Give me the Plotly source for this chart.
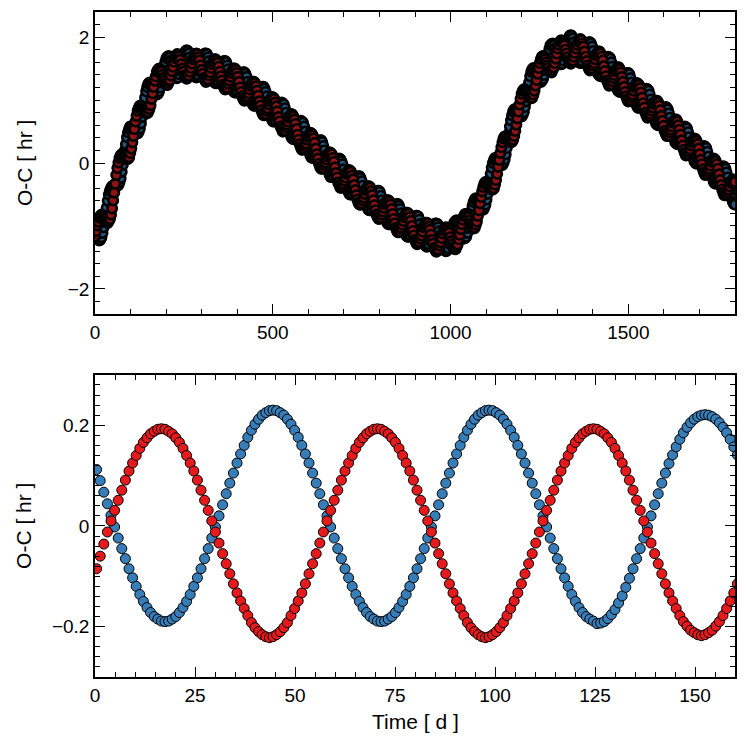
import plotly.graph_objects as go

# ---- top panel: full 1800-day baseline (epochs every 3 d) ----
time_top = [
    0, 3, 6, 9, 12, 15, 18, 21, 24, 27, 30, 33, 36, 39, 42, 45, 48, 51,
    54, 57, 60, 63, 66, 69, 72, 75, 78, 81, 84, 87, 90, 93, 96, 99, 102, 105,
    108, 111, 114, 117, 120, 123, 126, 129, 132, 135, 138, 141, 144, 147, 150, 153, 156, 159,
    162, 165, 168, 171, 174, 177, 180, 183, 186, 189, 192, 195, 198, 201, 204, 207, 210, 213,
    216, 219, 222, 225, 228, 231, 234, 237, 240, 243, 246, 249, 252, 255, 258, 261, 264, 267,
    270, 273, 276, 279, 282, 285, 288, 291, 294, 297, 300, 303, 306, 309, 312, 315, 318, 321,
    324, 327, 330, 333, 336, 339, 342, 345, 348, 351, 354, 357, 360, 363, 366, 369, 372, 375,
    378, 381, 384, 387, 390, 393, 396, 399, 402, 405, 408, 411, 414, 417, 420, 423, 426, 429,
    432, 435, 438, 441, 444, 447, 450, 453, 456, 459, 462, 465, 468, 471, 474, 477, 480, 483,
    486, 489, 492, 495, 498, 501, 504, 507, 510, 513, 516, 519, 522, 525, 528, 531, 534, 537,
    540, 543, 546, 549, 552, 555, 558, 561, 564, 567, 570, 573, 576, 579, 582, 585, 588, 591,
    594, 597, 600, 603, 606, 609, 612, 615, 618, 621, 624, 627, 630, 633, 636, 639, 642, 645,
    648, 651, 654, 657, 660, 663, 666, 669, 672, 675, 678, 681, 684, 687, 690, 693, 696, 699,
    702, 705, 708, 711, 714, 717, 720, 723, 726, 729, 732, 735, 738, 741, 744, 747, 750, 753,
    756, 759, 762, 765, 768, 771, 774, 777, 780, 783, 786, 789, 792, 795, 798, 801, 804, 807,
    810, 813, 816, 819, 822, 825, 828, 831, 834, 837, 840, 843, 846, 849, 852, 855, 858, 861,
    864, 867, 870, 873, 876, 879, 882, 885, 888, 891, 894, 897, 900, 903, 906, 909, 912, 915,
    918, 921, 924, 927, 930, 933, 936, 939, 942, 945, 948, 951, 954, 957, 960, 963, 966, 969,
    972, 975, 978, 981, 984, 987, 990, 993, 996, 999, 1002, 1005, 1008, 1011, 1014, 1017, 1020, 1023,
    1026, 1029, 1032, 1035, 1038, 1041, 1044, 1047, 1050, 1053, 1056, 1059, 1062, 1065, 1068, 1071, 1074, 1077,
    1080, 1083, 1086, 1089, 1092, 1095, 1098, 1101, 1104, 1107, 1110, 1113, 1116, 1119, 1122, 1125, 1128, 1131,
    1134, 1137, 1140, 1143, 1146, 1149, 1152, 1155, 1158, 1161, 1164, 1167, 1170, 1173, 1176, 1179, 1182, 1185,
    1188, 1191, 1194, 1197, 1200, 1203, 1206, 1209, 1212, 1215, 1218, 1221, 1224, 1227, 1230, 1233, 1236, 1239,
    1242, 1245, 1248, 1251, 1254, 1257, 1260, 1263, 1266, 1269, 1272, 1275, 1278, 1281, 1284, 1287, 1290, 1293,
    1296, 1299, 1302, 1305, 1308, 1311, 1314, 1317, 1320, 1323, 1326, 1329, 1332, 1335, 1338, 1341, 1344, 1347,
    1350, 1353, 1356, 1359, 1362, 1365, 1368, 1371, 1374, 1377, 1380, 1383, 1386, 1389, 1392, 1395, 1398, 1401,
    1404, 1407, 1410, 1413, 1416, 1419, 1422, 1425, 1428, 1431, 1434, 1437, 1440, 1443, 1446, 1449, 1452, 1455,
    1458, 1461, 1464, 1467, 1470, 1473, 1476, 1479, 1482, 1485, 1488, 1491, 1494, 1497, 1500, 1503, 1506, 1509,
    1512, 1515, 1518, 1521, 1524, 1527, 1530, 1533, 1536, 1539, 1542, 1545, 1548, 1551, 1554, 1557, 1560, 1563,
    1566, 1569, 1572, 1575, 1578, 1581, 1584, 1587, 1590, 1593, 1596, 1599, 1602, 1605, 1608, 1611, 1614, 1617,
    1620, 1623, 1626, 1629, 1632, 1635, 1638, 1641, 1644, 1647, 1650, 1653, 1656, 1659, 1662, 1665, 1668, 1671,
    1674, 1677, 1680, 1683, 1686, 1689, 1692, 1695, 1698, 1701, 1704, 1707, 1710, 1713, 1716, 1719, 1722, 1725,
    1728, 1731, 1734, 1737, 1740, 1743, 1746, 1749, 1752, 1755, 1758, 1761, 1764, 1767, 1770, 1773, 1776, 1779,
    1782, 1785, 1788, 1791, 1794, 1797, 1800,
]

primary_top = [
    -1.06, -1.12, -1.16, -1.21, -1.23, -1.22, -1.18, -1.11, -1.02, -0.93, -0.82, -0.71, -0.60, -0.50, -0.44, -0.40, -0.37, -0.36,
    -0.36, -0.37, -0.36, -0.36, -0.35, -0.30, -0.24, -0.14, -0.03, 0.07, 0.20, 0.30, 0.41, 0.49, 0.54, 0.58, 0.58, 0.56,
    0.54, 0.50, 0.49, 0.47, 0.47, 0.50, 0.55, 0.63, 0.73, 0.83, 0.95, 1.04, 1.14, 1.21, 1.26, 1.28, 1.27, 1.25,
    1.22, 1.17, 1.14, 1.10, 1.09, 1.10, 1.14, 1.20, 1.28, 1.36, 1.46, 1.54, 1.61, 1.67, 1.69, 1.70, 1.67, 1.62,
    1.57, 1.49, 1.44, 1.39, 1.35, 1.35, 1.36, 1.41, 1.47, 1.53, 1.61, 1.68, 1.74, 1.78, 1.79, 1.78, 1.74, 1.68,
    1.62, 1.54, 1.48, 1.41, 1.37, 1.36, 1.37, 1.40, 1.46, 1.51, 1.59, 1.65, 1.70, 1.74, 1.74, 1.73, 1.68, 1.62,
    1.55, 1.47, 1.40, 1.33, 1.29, 1.27, 1.27, 1.31, 1.36, 1.41, 1.49, 1.54, 1.59, 1.62, 1.62, 1.60, 1.55, 1.49,
    1.42, 1.33, 1.26, 1.19, 1.14, 1.12, 1.12, 1.15, 1.20, 1.25, 1.31, 1.36, 1.41, 1.44, 1.44, 1.42, 1.37, 1.29,
    1.22, 1.13, 1.06, 0.99, 0.93, 0.91, 0.91, 0.94, 0.98, 1.03, 1.09, 1.14, 1.19, 1.21, 1.21, 1.18, 1.13, 1.06,
    0.98, 0.89, 0.81, 0.74, 0.69, 0.66, 0.66, 0.68, 0.73, 0.78, 0.84, 0.89, 0.93, 0.96, 0.95, 0.93, 0.87, 0.80,
    0.72, 0.62, 0.55, 0.47, 0.42, 0.39, 0.38, 0.41, 0.45, 0.50, 0.56, 0.60, 0.65, 0.67, 0.66, 0.64, 0.58, 0.50,
    0.42, 0.33, 0.25, 0.17, 0.12, 0.09, 0.08, 0.11, 0.15, 0.19, 0.25, 0.30, 0.34, 0.36, 0.36, 0.33, 0.27, 0.20,
    0.12, 0.02, -0.06, -0.13, -0.19, -0.22, -0.22, -0.20, -0.15, -0.11, -0.05, 0.00, 0.04, 0.07, 0.06, 0.03, -0.02, -0.10,
    -0.17, -0.27, -0.34, -0.42, -0.47, -0.50, -0.50, -0.48, -0.43, -0.39, -0.32, -0.28, -0.23, -0.21, -0.21, -0.24, -0.29, -0.36,
    -0.44, -0.53, -0.60, -0.68, -0.73, -0.75, -0.75, -0.73, -0.68, -0.63, -0.56, -0.52, -0.47, -0.44, -0.44, -0.46, -0.52, -0.59,
    -0.66, -0.75, -0.82, -0.90, -0.95, -0.97, -0.97, -0.94, -0.90, -0.85, -0.78, -0.73, -0.68, -0.65, -0.65, -0.68, -0.73, -0.80,
    -0.87, -0.96, -1.03, -1.10, -1.15, -1.17, -1.17, -1.14, -1.09, -1.04, -0.97, -0.92, -0.87, -0.84, -0.84, -0.85, -0.90, -0.97,
    -1.04, -1.13, -1.19, -1.26, -1.31, -1.33, -1.32, -1.29, -1.23, -1.18, -1.11, -1.05, -1.00, -0.96, -0.96, -0.97, -1.02, -1.08,
    -1.15, -1.23, -1.29, -1.35, -1.39, -1.40, -1.39, -1.35, -1.28, -1.22, -1.13, -1.06, -0.99, -0.94, -0.92, -0.91, -0.94, -0.98,
    -1.03, -1.09, -1.14, -1.18, -1.20, -1.19, -1.17, -1.11, -1.03, -0.95, -0.85, -0.76, -0.68, -0.62, -0.58, -0.56, -0.58, -0.61,
    -0.64, -0.68, -0.71, -0.73, -0.74, -0.71, -0.66, -0.58, -0.49, -0.39, -0.27, -0.17, -0.07, 0.00, 0.05, 0.08, 0.08, 0.06,
    0.05, 0.01, -0.01, -0.03, -0.03, 0.01, 0.06, 0.14, 0.24, 0.35, 0.47, 0.58, 0.68, 0.76, 0.82, 0.85, 0.86, 0.84,
    0.82, 0.78, 0.76, 0.74, 0.74, 0.77, 0.81, 0.89, 0.98, 1.08, 1.19, 1.28, 1.38, 1.45, 1.49, 1.51, 1.50, 1.46,
    1.43, 1.38, 1.34, 1.31, 1.29, 1.31, 1.34, 1.40, 1.48, 1.56, 1.66, 1.74, 1.81, 1.87, 1.89, 1.90, 1.87, 1.82,
    1.77, 1.70, 1.65, 1.60, 1.57, 1.57, 1.58, 1.63, 1.70, 1.76, 1.85, 1.91, 1.98, 2.02, 2.03, 2.02, 1.98, 1.92,
    1.86, 1.78, 1.71, 1.65, 1.60, 1.59, 1.59, 1.62, 1.68, 1.73, 1.80, 1.85, 1.90, 1.92, 1.92, 1.90, 1.85, 1.78,
    1.70, 1.61, 1.54, 1.47, 1.41, 1.39, 1.38, 1.41, 1.46, 1.50, 1.57, 1.61, 1.66, 1.69, 1.68, 1.66, 1.60, 1.53,
    1.46, 1.36, 1.29, 1.21, 1.16, 1.14, 1.13, 1.16, 1.20, 1.25, 1.32, 1.36, 1.41, 1.43, 1.43, 1.41, 1.35, 1.28,
    1.20, 1.11, 1.04, 0.96, 0.91, 0.88, 0.88, 0.91, 0.95, 1.00, 1.06, 1.11, 1.15, 1.18, 1.17, 1.15, 1.09, 1.01,
    0.94, 0.84, 0.77, 0.69, 0.63, 0.61, 0.60, 0.63, 0.67, 0.71, 0.78, 0.82, 0.86, 0.89, 0.88, 0.85, 0.79, 0.72,
    0.64, 0.54, 0.47, 0.39, 0.33, 0.31, 0.30, 0.32, 0.36, 0.41, 0.47, 0.51, 0.56, 0.58, 0.57, 0.55, 0.49, 0.41,
    0.33, 0.24, 0.16, 0.08, 0.03, 0.00, -0.01, 0.02, 0.06, 0.10, 0.16, 0.21, 0.25, 0.27, 0.26, 0.24, 0.18, 0.10,
    0.02, -0.08, -0.15, -0.23, -0.29, -0.32, -0.33, -0.30, -0.26, -0.22, -0.16, -0.12, -0.07, -0.05, -0.06, -0.09, -0.15, -0.23,
    -0.31, -0.41, -0.48, -0.56, -0.62, -0.65, -0.66,
]

secondary_top = [
    -1.17, -1.08, -0.99, -0.93, -0.87, -0.84, -0.82, -0.83, -0.85, -0.89, -0.93, -0.94, -0.95, -0.92, -0.89, -0.82, -0.72, -0.59,
    -0.47, -0.33, -0.19, -0.08, 0.01, 0.08, 0.12, 0.14, 0.14, 0.11, 0.09, 0.07, 0.06, 0.07, 0.09, 0.16, 0.23, 0.33,
    0.43, 0.54, 0.66, 0.75, 0.83, 0.88, 0.91, 0.91, 0.90, 0.87, 0.84, 0.81, 0.79, 0.79, 0.81, 0.86, 0.92, 1.02,
    1.11, 1.21, 1.31, 1.38, 1.45, 1.48, 1.50, 1.48, 1.45, 1.40, 1.35, 1.31, 1.26, 1.25, 1.24, 1.28, 1.32, 1.39,
    1.46, 1.53, 1.61, 1.67, 1.71, 1.73, 1.72, 1.69, 1.64, 1.57, 1.50, 1.45, 1.39, 1.36, 1.34, 1.36, 1.39, 1.45,
    1.51, 1.58, 1.65, 1.69, 1.73, 1.74, 1.73, 1.68, 1.63, 1.55, 1.48, 1.42, 1.35, 1.32, 1.29, 1.31, 1.33, 1.39,
    1.44, 1.51, 1.57, 1.61, 1.65, 1.65, 1.63, 1.59, 1.53, 1.45, 1.38, 1.31, 1.24, 1.20, 1.17, 1.18, 1.20, 1.26,
    1.31, 1.37, 1.43, 1.47, 1.50, 1.50, 1.48, 1.43, 1.37, 1.29, 1.20, 1.13, 1.06, 1.02, 0.99, 1.00, 1.02, 1.06,
    1.11, 1.17, 1.23, 1.27, 1.29, 1.29, 1.27, 1.22, 1.15, 1.07, 0.98, 0.91, 0.84, 0.79, 0.76, 0.76, 0.78, 0.83,
    0.87, 0.93, 0.98, 1.02, 1.05, 1.04, 1.02, 0.96, 0.90, 0.82, 0.73, 0.66, 0.58, 0.54, 0.50, 0.51, 0.52, 0.57,
    0.61, 0.66, 0.72, 0.75, 0.78, 0.77, 0.74, 0.69, 0.62, 0.54, 0.45, 0.37, 0.30, 0.25, 0.21, 0.22, 0.23, 0.27,
    0.31, 0.37, 0.42, 0.45, 0.48, 0.47, 0.44, 0.39, 0.32, 0.23, 0.14, 0.07, -0.01, -0.06, -0.09, -0.09, -0.08, -0.03,
    0.01, 0.06, 0.11, 0.15, 0.17, 0.16, 0.14, 0.08, 0.02, -0.07, -0.16, -0.23, -0.31, -0.35, -0.39, -0.39, -0.37, -0.33,
    -0.28, -0.23, -0.17, -0.14, -0.11, -0.12, -0.14, -0.20, -0.26, -0.35, -0.43, -0.51, -0.58, -0.63, -0.66, -0.66, -0.64, -0.59,
    -0.55, -0.49, -0.43, -0.40, -0.37, -0.37, -0.39, -0.45, -0.51, -0.59, -0.67, -0.75, -0.82, -0.86, -0.89, -0.88, -0.87, -0.82,
    -0.77, -0.71, -0.65, -0.62, -0.59, -0.59, -0.61, -0.66, -0.73, -0.81, -0.89, -0.96, -1.03, -1.07, -1.10, -1.10, -1.08, -1.03,
    -0.98, -0.92, -0.86, -0.82, -0.79, -0.79, -0.81, -0.86, -0.92, -1.00, -1.08, -1.15, -1.22, -1.26, -1.29, -1.27, -1.25, -1.20,
    -1.15, -1.09, -1.02, -0.98, -0.95, -0.95, -0.96, -1.01, -1.06, -1.14, -1.22, -1.28, -1.35, -1.38, -1.41, -1.39, -1.37, -1.31,
    -1.26, -1.19, -1.12, -1.07, -1.03, -1.02, -1.03, -1.07, -1.11, -1.18, -1.24, -1.29, -1.34, -1.36, -1.37, -1.33, -1.29, -1.21,
    -1.14, -1.05, -0.97, -0.90, -0.84, -0.81, -0.81, -0.83, -0.86, -0.91, -0.96, -0.99, -1.03, -1.04, -1.03, -0.98, -0.93, -0.84,
    -0.75, -0.64, -0.54, -0.45, -0.38, -0.33, -0.30, -0.30, -0.32, -0.35, -0.38, -0.40, -0.42, -0.42, -0.40, -0.34, -0.27, -0.17,
    -0.06, 0.05, 0.16, 0.25, 0.33, 0.39, 0.42, 0.42, 0.41, 0.39, 0.36, 0.35, 0.33, 0.34, 0.37, 0.43, 0.51, 0.61,
    0.71, 0.82, 0.93, 1.02, 1.10, 1.15, 1.17, 1.17, 1.15, 1.12, 1.08, 1.05, 1.03, 1.03, 1.04, 1.09, 1.15, 1.23,
    1.32, 1.42, 1.51, 1.59, 1.65, 1.69, 1.70, 1.68, 1.65, 1.60, 1.55, 1.51, 1.46, 1.45, 1.44, 1.48, 1.52, 1.59,
    1.66, 1.74, 1.82, 1.88, 1.93, 1.95, 1.94, 1.91, 1.87, 1.80, 1.74, 1.68, 1.63, 1.60, 1.58, 1.60, 1.63, 1.69,
    1.75, 1.82, 1.88, 1.93, 1.96, 1.97, 1.95, 1.90, 1.85, 1.77, 1.69, 1.62, 1.55, 1.50, 1.47, 1.48, 1.50, 1.55,
    1.59, 1.65, 1.71, 1.75, 1.77, 1.77, 1.74, 1.69, 1.63, 1.54, 1.46, 1.38, 1.31, 1.27, 1.23, 1.24, 1.25, 1.30,
    1.35, 1.40, 1.46, 1.49, 1.52, 1.52, 1.49, 1.44, 1.37, 1.29, 1.21, 1.13, 1.06, 1.01, 0.98, 0.99, 1.00, 1.05,
    1.09, 1.15, 1.21, 1.24, 1.27, 1.26, 1.24, 1.19, 1.12, 1.04, 0.95, 0.88, 0.80, 0.76, 0.72, 0.73, 0.74, 0.78,
    0.83, 0.88, 0.94, 0.97, 0.99, 0.99, 0.96, 0.91, 0.84, 0.75, 0.67, 0.59, 0.51, 0.47, 0.43, 0.43, 0.44, 0.49,
    0.53, 0.58, 0.64, 0.67, 0.69, 0.69, 0.66, 0.60, 0.53, 0.45, 0.36, 0.28, 0.21, 0.16, 0.12, 0.13, 0.14, 0.18,
    0.22, 0.28, 0.33, 0.36, 0.39, 0.38, 0.35, 0.30, 0.23, 0.14, 0.05, -0.02, -0.10, -0.15, -0.19, -0.18, -0.17, -0.13,
    -0.09, -0.04, 0.02, 0.05, 0.07, 0.06, 0.03, -0.02, -0.09, -0.18, -0.27, -0.35, -0.42, -0.47, -0.51, -0.51, -0.50, -0.46,
    -0.42, -0.37, -0.31, -0.28, -0.26, -0.27, -0.30,
]

# ---- bottom panel: first 160 days, long-term signal removed ----
time_bot = [
    0.4, 1.3, 2.2, 3.1, 4.0, 4.9, 5.8, 6.7, 7.6, 8.5,
    9.4, 10.3, 11.2, 12.1, 13.0, 13.9, 14.8, 15.7, 16.6, 17.5,
    18.4, 19.3, 20.2, 21.1, 22.0, 22.9, 23.8, 24.7, 25.6, 26.5,
    27.4, 28.3, 29.2, 30.1, 31.0, 31.9, 32.8, 33.7, 34.6, 35.5,
    36.4, 37.3, 38.2, 39.1, 40.0, 40.9, 41.8, 42.7, 43.6, 44.5,
    45.4, 46.3, 47.2, 48.1, 49.0, 49.9, 50.8, 51.7, 52.6, 53.5,
    54.4, 55.3, 56.2, 57.1, 58.0, 58.9, 59.8, 60.7, 61.6, 62.5,
    63.4, 64.3, 65.2, 66.1, 67.0, 67.9, 68.8, 69.7, 70.6, 71.5,
    72.4, 73.3, 74.2, 75.1, 76.0, 76.9, 77.8, 78.7, 79.6, 80.5,
    81.4, 82.3, 83.2, 84.1, 85.0, 85.9, 86.8, 87.7, 88.6, 89.5,
    90.4, 91.3, 92.2, 93.1, 94.0, 94.9, 95.8, 96.7, 97.6, 98.5,
    99.4, 100.3, 101.2, 102.1, 103.0, 103.9, 104.8, 105.7, 106.6, 107.5,
    108.4, 109.3, 110.2, 111.1, 112.0, 112.9, 113.8, 114.7, 115.6, 116.5,
    117.4, 118.3, 119.2, 120.1, 121.0, 121.9, 122.8, 123.7, 124.6, 125.5,
    126.4, 127.3, 128.2, 129.1, 130.0, 130.9, 131.8, 132.7, 133.6, 134.5,
    135.4, 136.3, 137.2, 138.1, 139.0, 139.9, 140.8, 141.7, 142.6, 143.5,
    144.4, 145.3, 146.2, 147.1, 148.0, 148.9, 149.8, 150.7, 151.6, 152.5,
    153.4, 154.3, 155.2, 156.1, 157.0, 157.9, 158.8, 159.7, 160.6,
]

primary_bot = [
    0.112, 0.090, 0.067, 0.044, 0.021, -0.002, -0.024, -0.045, -0.065, -0.085,
    -0.103, -0.120, -0.136, -0.150, -0.162, -0.172, -0.180, -0.185, -0.189,
    -0.190, -0.189, -0.185, -0.180, -0.172, -0.162, -0.150, -0.136, -0.120, -0.103,
    -0.085, -0.065, -0.045, -0.024, -0.002, 0.020, 0.042, 0.064, 0.085, 0.105,
    0.125, 0.143, 0.160, 0.176, 0.190, 0.202, 0.212, 0.220, 0.225, 0.229,
    0.230, 0.229, 0.225, 0.220, 0.212, 0.202, 0.190, 0.176, 0.160, 0.143,
    0.125, 0.105, 0.085, 0.064, 0.042, 0.020, -0.002, -0.024, -0.045, -0.065,
    -0.085, -0.103, -0.120, -0.136, -0.150, -0.162, -0.172, -0.180, -0.185, -0.189,
    -0.190, -0.189, -0.185, -0.180, -0.172, -0.162, -0.150, -0.136, -0.120, -0.103,
    -0.085, -0.065, -0.045, -0.024, -0.002, 0.020, 0.042, 0.064, 0.085, 0.105,
    0.125, 0.143, 0.160, 0.176, 0.190, 0.202, 0.212, 0.220, 0.225, 0.229,
    0.230, 0.229, 0.225, 0.220, 0.212, 0.202, 0.190, 0.176, 0.160, 0.143,
    0.125, 0.105, 0.085, 0.064, 0.042, 0.020, -0.002, -0.024, -0.045, -0.065,
    -0.085, -0.103, -0.120, -0.136, -0.150, -0.162, -0.172, -0.180, -0.185, -0.189,
    -0.194, -0.193, -0.190, -0.184, -0.176, -0.166, -0.153, -0.139, -0.122, -0.104,
    -0.085, -0.065, -0.045, -0.024, -0.002, 0.020, 0.042, 0.064, 0.085, 0.105,
    0.124, 0.141, 0.157, 0.172, 0.185, 0.196, 0.205, 0.212, 0.217, 0.220,
    0.221, 0.220, 0.217, 0.212, 0.205, 0.196, 0.185, 0.172, 0.157, 0.141,
]

secondary_bot = [
    -0.085, -0.060, -0.036, -0.012, 0.010, 0.031, 0.051, 0.071, 0.091, 0.109,
    0.125, 0.140, 0.154, 0.166, 0.175, 0.183, 0.188, 0.192,
    0.193, 0.192, 0.188, 0.183, 0.175, 0.166, 0.154, 0.140, 0.125, 0.109,
    0.091, 0.071, 0.051, 0.031, 0.010, -0.012, -0.034, -0.055, -0.075, -0.095,
    -0.115, -0.133, -0.149, -0.164, -0.178, -0.192, -0.202, -0.210, -0.216, -0.220,
    -0.222, -0.220, -0.216, -0.210, -0.202, -0.192, -0.178, -0.164, -0.149, -0.133,
    -0.115, -0.095, -0.075, -0.055, -0.034, -0.012, 0.010, 0.031, 0.051, 0.071,
    0.091, 0.109, 0.125, 0.140, 0.154, 0.166, 0.175, 0.183, 0.188, 0.192,
    0.193, 0.192, 0.188, 0.183, 0.175, 0.166, 0.154, 0.140, 0.125, 0.109,
    0.091, 0.071, 0.051, 0.031, 0.010, -0.012, -0.034, -0.055, -0.075, -0.095,
    -0.115, -0.133, -0.149, -0.164, -0.178, -0.192, -0.202, -0.210, -0.216, -0.220,
    -0.222, -0.220, -0.216, -0.210, -0.202, -0.192, -0.178, -0.164, -0.149, -0.133,
    -0.115, -0.095, -0.075, -0.055, -0.034, -0.012, 0.010, 0.031, 0.051, 0.071,
    0.091, 0.109, 0.125, 0.140, 0.154, 0.166, 0.175, 0.183, 0.188, 0.192,
    0.193, 0.192, 0.188, 0.183, 0.175, 0.166, 0.154, 0.140, 0.125, 0.109,
    0.091, 0.071, 0.051, 0.031, 0.010, -0.012, -0.034, -0.055, -0.075, -0.095,
    -0.115, -0.133, -0.149, -0.164, -0.178, -0.190, -0.199, -0.207, -0.212, -0.216,
    -0.218, -0.216, -0.212, -0.207, -0.199, -0.190, -0.178, -0.164, -0.149, -0.133,
    -0.115,
]

BLUE = "#377eb8"
RED = "#e41a1c"
# top panel: thousands of outlined epochs pile up, so the fills read much darker
BLUE_DENSE = "#27557d"
RED_DENSE = "#8e1416"
FONT = "Liberation Sans, Arial, Helvetica, sans-serif"


def dots(x, y, color, size, edge, xa, ya):
    return go.Scatter(
        x=x, y=y, mode="markers", xaxis=xa, yaxis=ya, hoverinfo="skip",
        marker=dict(size=size, color=color, line=dict(color="black", width=edge)),
    )


fig = go.Figure()
fig.add_trace(dots(time_top, primary_top, BLUE_DENSE, 9.5, 2.6, "x", "y"))
fig.add_trace(dots(time_top, secondary_top, RED_DENSE, 9.5, 2.6, "x", "y"))
fig.add_trace(dots(time_bot, primary_bot, BLUE, 10, 1, "x2", "y2"))
fig.add_trace(dots(time_bot, secondary_bot, RED, 10, 1, "x2", "y2"))

frame = dict(
    showline=True, linecolor="black", linewidth=1.5, mirror="allticks",
    ticks="inside", ticklen=10, tickwidth=1, tickcolor="black",
    showgrid=False, zeroline=False, tickfont=dict(size=19),
)


def minor(step):
    return dict(ticks="inside", ticklen=5, tickwidth=1, tickcolor="black", dtick=step, showgrid=False)


fig.update_layout(
    width=747, height=747,
    margin=dict(l=95, r=10, t=10, b=70),
    paper_bgcolor="white", plot_bgcolor="white",
    showlegend=False,
    font=dict(family=FONT, size=19, color="black"),
    xaxis=dict(domain=[0, 1], anchor="y", range=[0, 1800], tick0=0, dtick=500, minor=minor(100), **frame),
    yaxis=dict(domain=[0.5457, 1], anchor="x", range=[-2.4, 2.4], tick0=0, dtick=2, minor=minor(0.2), **frame),
    xaxis2=dict(domain=[0, 1], anchor="y2", range=[0, 160], tick0=0, dtick=25, minor=minor(5), **frame),
    yaxis2=dict(domain=[0, 0.4543], anchor="x2", range=[-0.3, 0.3], tick0=0, dtick=0.2, minor=minor(0.02), **frame),
    annotations=[
        dict(text="O-C [ hr ]", xref="paper", yref="paper", x=-0.111, y=0.7729, textangle=-90,
             showarrow=False, xanchor="center", yanchor="middle", font=dict(size=21)),
        dict(text="O-C [ hr ]", xref="paper", yref="paper", x=-0.111, y=0.2271, textangle=-90,
             showarrow=False, xanchor="center", yanchor="middle", font=dict(size=21)),
        dict(text="Time [ d ]", xref="paper", yref="paper", x=0.5, y=-0.0675,
             showarrow=False, xanchor="center", yanchor="middle", font=dict(size=21)),
    ],
)

fig.write_html(
    "out.html",
    config={"displayModeBar": False},
    post_script="document.body.style.margin = '0';",
)
